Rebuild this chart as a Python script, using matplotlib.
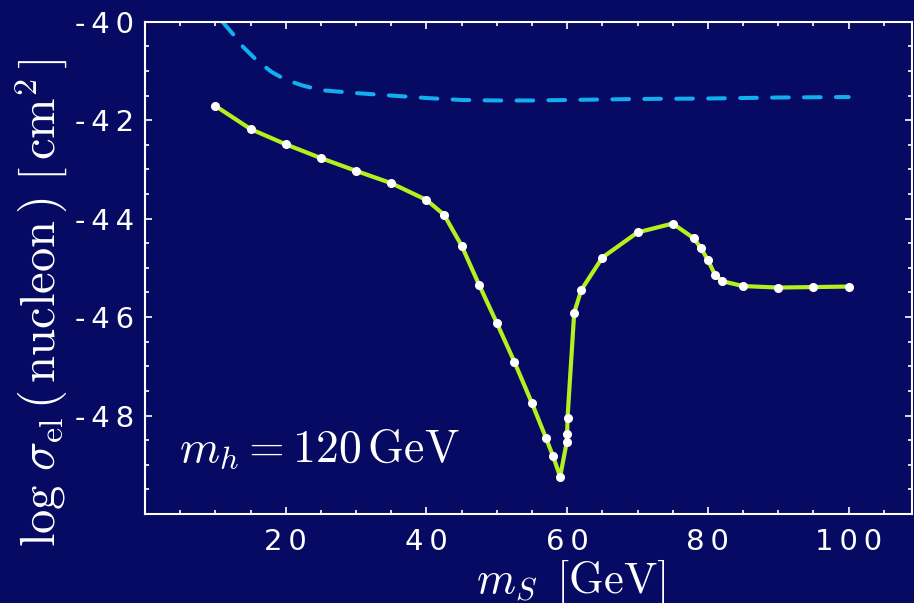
import matplotlib
matplotlib.use("Agg")
import matplotlib.pyplot as plt
from matplotlib.ticker import MultipleLocator, FuncFormatter

plt.rcParams['mathtext.fontset'] = 'cm'
plt.rcParams['lines.scale_dashes'] = False

# elastic scattering cross section vs singlet mass, m_h = 120 GeV
m_s = [10, 15, 20, 25, 30, 35, 40, 42.5, 45, 47.5, 50, 52.5, 55, 57, 58, 59,
       59.95, 60.0, 60.05, 61, 62, 65, 70, 75, 78, 79, 80, 81, 82, 85, 90, 95, 100]
log_sigma = [-41.71, -42.18, -42.49, -42.77, -43.03, -43.28, -43.62, -43.92,
             -44.55, -45.35, -46.12, -46.91, -47.75, -48.46, -48.83, -49.24,
             -48.53, -48.37, -48.05, -45.91, -45.45, -44.79, -44.28, -44.10,
             -44.40, -44.60, -44.84, -45.14, -45.27, -45.37, -45.40, -45.39, -45.38]

# experimental exclusion limit
m_lim = [11, 12.5, 14, 16, 18, 20, 22.5, 25, 30, 35, 40, 45, 50, 55, 60, 70, 80, 90, 100]
log_lim = [-40.0, -40.25, -40.52, -40.80, -41.02, -41.18, -41.30, -41.39, -41.45,
           -41.50, -41.55, -41.59, -41.60, -41.60, -41.59, -41.57, -41.56, -41.54, -41.53]

bg = '#060a62'
fig = plt.figure(figsize=(9.14, 6.03), dpi=100, facecolor=bg)
ax = fig.add_axes([0.1586, 0.1476, 0.8392, 0.8164], facecolor=bg)

ax.plot(m_lim, log_lim, color='#12aef0', lw=2.9, dashes=(12, 11),
        dash_capstyle='round', solid_capstyle='round')
ax.plot(m_s, log_sigma, color='#b4f01e', lw=3, marker='o', ms=5.5,
        mfc='white', mec='white', zorder=3)

ax.set_xlim(0, 109)
ax.set_ylim(-50, -40)

for s in ax.spines.values():
    s.set_color('white')
    s.set_linewidth(1.5)

ax.xaxis.set_major_locator(MultipleLocator(20))
ax.xaxis.set_minor_locator(MultipleLocator(5))
ax.yaxis.set_major_locator(MultipleLocator(2))
ax.yaxis.set_minor_locator(MultipleLocator(0.5))


def spaced(v, pos):
    # digits set apart with thin spaces; corner values left blank
    n = int(round(v))
    if n in (0, -50):
        return ''
    return '\u2009'.join(str(n))


ax.xaxis.set_major_formatter(FuncFormatter(spaced))
ax.yaxis.set_major_formatter(FuncFormatter(spaced))
ax.tick_params(which='both', direction='in', colors='white', top=True, right=True,
               labelsize=21, width=1.2)
ax.tick_params(which='major', length=5)
ax.tick_params(which='minor', length=3)
ax.tick_params(axis='x', pad=10)
ax.tick_params(axis='y', pad=8)
for lab in ax.get_xticklabels() + ax.get_yticklabels():
    lab.set_fontfamily('DejaVu Sans')

ax.set_ylabel(r'$\log\,\sigma_{\rm el}\,(\,{\rm nucleon}\,)\ [\,{\rm cm}^2\,]$',
              color='white', fontsize=35)
ax.yaxis.set_label_coords(-0.098, 0.43)
ax.set_xlabel(r'$m_S\,\ [{\rm GeV}]$', color='white', fontsize=32)
ax.xaxis.set_label_coords(0.555, -0.088)

ax.text(0.045, 0.105, r'$m_h = 120\,{\rm GeV}$', transform=ax.transAxes,
        color='white', fontsize=33)

fig.savefig('out.png', dpi=100, facecolor=bg)
